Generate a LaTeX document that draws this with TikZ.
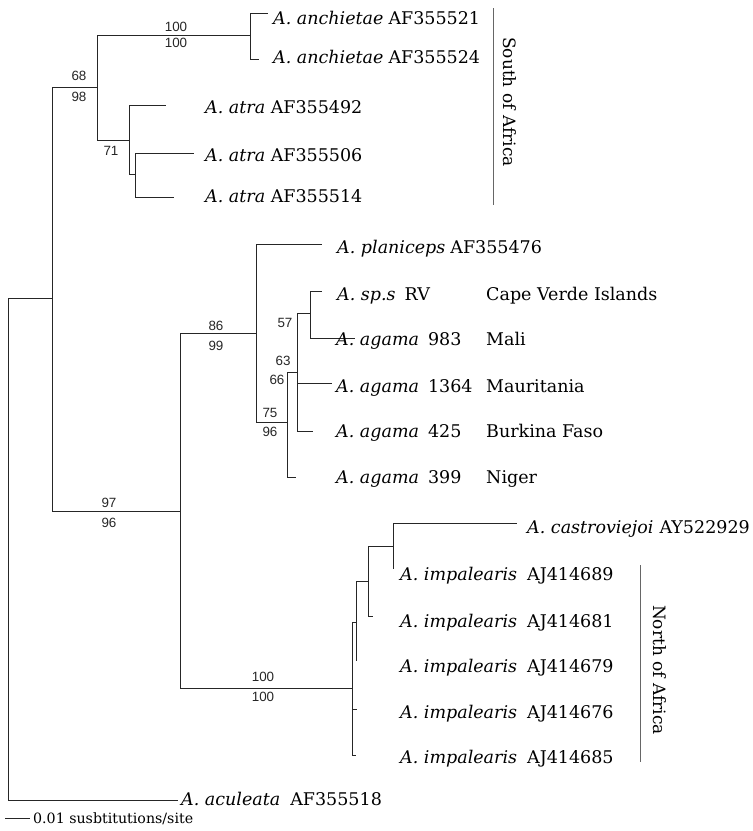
\documentclass[tikz,border=0pt]{standalone}
\usepackage{fontspec}
\setmainfont{DejaVu Serif}
\newfontfamily\bootfont{Liberation Sans}
\usepackage{tikz}
\usetikzlibrary{positioning}

\begin{document}
\begin{tikzpicture}[
  x=1pt, y=-1pt,
  branch/.style={
    draw=black!85,
    line width=0.95pt
  },
  taxon/.style={
    anchor=base west,
    inner sep=0pt,
    font=\fontsize{17.5}{19}\selectfont
  },
  boot/.style={
    inner sep=0pt,
    text=black!85,
    font=\bootfont\fontsize{13.4}{14}\selectfont
  },
  bracket/.style={
    draw=black!60,
    line width=0.7pt
  },
  area/.style={
    rotate=-90,
    inner sep=0pt,
    font=\fontsize{17}{18}\selectfont
  }
]
\useasboundingbox (0,0) rectangle (753,831);

% internal nodes
\coordinate (root) at (8,298);
\coordinate (ingroup) at (52,298);
\coordinate (south) at (97,87);
\coordinate (anchietae) at (250,35);
\coordinate (atra) at (129,140);
\coordinate (atrasub) at (135,174);
\coordinate (north) at (180,511);
\coordinate (west) at (256,333);
\coordinate (agama) at (287,422);
\coordinate (agamasub) at (297,372);
\coordinate (capemali) at (310,313);
\coordinate (maghreb) at (352,688);
\coordinate (imp1) at (356,622);
\coordinate (imp2) at (368,581);
\coordinate (imp3) at (393,546);

% tips
\coordinate (t-an1) at (268,13);
\coordinate (t-an2) at (259,59);
\coordinate (t-at1) at (166,105);
\coordinate (t-at2) at (194,153);
\coordinate (t-at3) at (174,197);
\coordinate (t-pla) at (322,244);
\coordinate (t-sps) at (322,291);
\coordinate (t-mal) at (355,338);
\coordinate (t-mau) at (332,383);
\coordinate (t-bur) at (313,431);
\coordinate (t-nig) at (296,477);
\coordinate (t-cas) at (517,523);
\coordinate (t-i89) at (393,569);
\coordinate (t-i81) at (373,616);
\coordinate (t-i79) at (356,661);
\coordinate (t-i76) at (357,709);
\coordinate (t-i85) at (356,755);
\coordinate (t-acu) at (178,800);

\draw[branch] (root) |- (ingroup);
\draw[branch] (root) |- (t-acu);
\draw[branch] (ingroup) |- (south);
\draw[branch] (ingroup) |- (north);
\draw[branch] (south) |- (anchietae);
\draw[branch] (south) |- (atra);
\draw[branch] (anchietae) |- (t-an1);
\draw[branch] (anchietae) |- (t-an2);
\draw[branch] (atra) |- (t-at1);
\draw[branch] (atra) |- (atrasub);
\draw[branch] (atrasub) |- (t-at2);
\draw[branch] (atrasub) |- (t-at3);
\draw[branch] (north) |- (west);
\draw[branch] (north) |- (maghreb);
\draw[branch] (west) |- (t-pla);
\draw[branch] (west) |- (agama);
\draw[branch] (agama) |- (agamasub);
\draw[branch] (agama) |- (t-nig);
\draw[branch] (agamasub) |- (capemali);
\draw[branch] (agamasub) |- (t-mau);
\draw[branch] (agamasub) |- (t-bur);
\draw[branch] (capemali) |- (t-sps);
\draw[branch] (capemali) |- (t-mal);
\draw[branch] (maghreb) |- (imp1);
\draw[branch] (maghreb) |- (t-i76);
\draw[branch] (maghreb) |- (t-i85);
\draw[branch] (imp1) |- (imp2);
\draw[branch] (imp1) |- (t-i79);
\draw[branch] (imp2) |- (imp3);
\draw[branch] (imp2) |- (t-i81);
\draw[branch] (imp3) |- (t-cas);
\draw[branch] (imp3) |- (t-i89);

% taxon labels
\node[taxon] (l-an1) at (273,24) {\textit{A. anchietae}\hspace{5pt}AF355521};
\node[taxon] (l-an2) at (273,63) {\textit{A. anchietae}\hspace{5pt}AF355524};
\node[taxon] (l-at1) at (205,113) {\textit{A. atra} AF355492};
\node[taxon] (l-at2) at (205,161) {\textit{A. atra} AF355506};
\node[taxon] (l-at3) at (205,202) {\textit{A. atra} AF355514};
\node[taxon] (l-pla) at (337,253) {\textit{A. planiceps}\hspace{5pt}AF355476};
\node[taxon] (l-sps) at (337,300) {\textit{A. sp.s}\hspace{9pt}RV};
\node[taxon] (l-mal) at (336,345) {\textit{A. agama}\hspace{9pt}983};
\node[taxon] (l-mau) at (336,392) {\textit{A. agama}\hspace{9pt}1364};
\node[taxon] (l-bur) at (336,437) {\textit{A. agama}\hspace{9pt}425};
\node[taxon] (l-nig) at (336,483) {\textit{A. agama}\hspace{9pt}399};
\node[taxon] (c-sps) at (486,300) {Cape Verde Islands};
\node[taxon] (c-mal) at (486,345) {Mali};
\node[taxon] (c-mau) at (486,392) {Mauritania};
\node[taxon] (c-bur) at (486,437) {Burkina Faso};
\node[taxon] (c-nig) at (486,483) {Niger};
\node[taxon] (l-cas) at (527,533) {\textit{A. castroviejoi}\hspace{6pt}AY522929};
\node[taxon] (l-i89) at (400,580) {\textit{A. impalearis}\hspace{10pt}AJ414689};
\node[taxon] (l-i81) at (400,627) {\textit{A. impalearis}\hspace{10pt}AJ414681};
\node[taxon] (l-i79) at (400,672) {\textit{A. impalearis}\hspace{10pt}AJ414679};
\node[taxon] (l-i76) at (400,718) {\textit{A. impalearis}\hspace{10pt}AJ414676};
\node[taxon] (l-i85) at (400,763) {\textit{A. impalearis}\hspace{10pt}AJ414685};
\node[taxon] (l-acu) at (181,805) {\textit{A. aculeata}\hspace{10pt}AF355518};

% bootstrap values
\node[boot] (b-an-a) at (176,27) {100};
\node[boot] (b-an-b) at (176,43) {100};
\node[boot] (b-so-a) at (79,76) {68};
\node[boot] (b-so-b) at (79,97) {98};
\node[boot] (b-at) at (111,151) {71};
\node[boot] (b-we-a) at (216,326) {86};
\node[boot] (b-we-b) at (216,346) {99};
\node[boot] (b-ag-a) at (270,413) {75};
\node[boot] (b-ag-b) at (270,432) {96};
\node[boot] (b-cm) at (285,323) {57};
\node[boot] (b-as-a) at (283,361) {63};
\node[boot] (b-as-b) at (277,380) {66};
\node[boot] (b-no-a) at (109,503) {97};
\node[boot] (b-no-b) at (109,523) {96};
\node[boot] (b-ma-a) at (263,677) {100};
\node[boot] (b-ma-b) at (263,697) {100};

% regions
\coordinate (sa-top) at (493,8);
\coordinate (sa-bot) at (493,205);
\draw[bracket] (sa-top) -- (sa-bot);
\node[area] (sa) at (510,102) {South of Africa};
\coordinate (na-top) at (640,565);
\coordinate (na-bot) at (640,762);
\draw[bracket] (na-top) -- (na-bot);
\node[area] (na) at (660,670) {North of Africa};

% scale
\coordinate (sc-a) at (5,818);
\coordinate (sc-b) at (30,818);
\draw[branch] (sc-a) -- (sc-b);
\node[anchor=base west, inner sep=0pt, font=\fontsize{14.2}{15}\selectfont] (sc) at (33,823) {0.01 susbtitutions/site};

\end{tikzpicture}
\end{document}
